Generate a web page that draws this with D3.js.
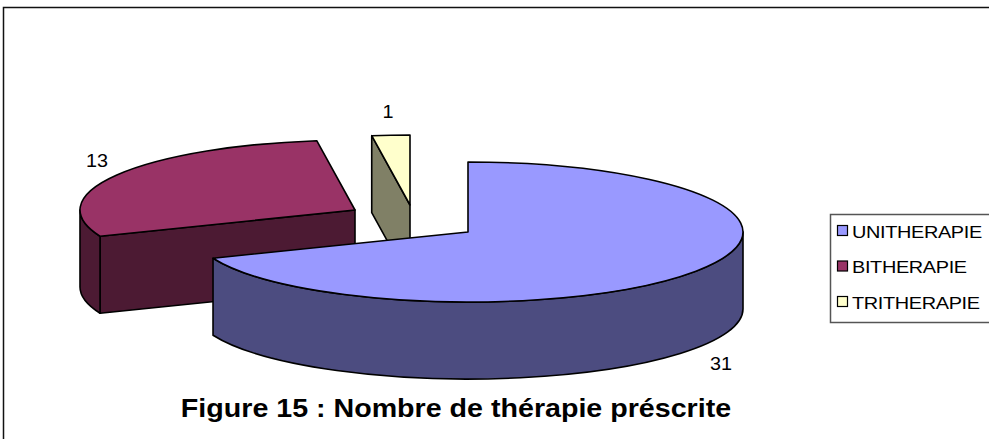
<!DOCTYPE html>
<html><head><meta charset="utf-8">
<script src="https://cdn.jsdelivr.net/npm/d3@7"></script>
<style>html,body{margin:0;padding:0;background:#fff;overflow:hidden}</style>
</head><body>
<svg id="c" width="989" height="439"></svg>
<script>
// ---- data ----
const categories = ["UNITHERAPIE", "BITHERAPIE", "TRITHERAPIE"];
const values = [31, 13, 1];
const title = "Figure 15 : Nombre de thérapie préscrite";

// ---- styling / layout ----
const topColors  = ["#9999FF", "#993366", "#FFFFCC"];
const sideColors = ["#4C4C80", "#4C1A33", "#808066"];
const explode = [[0, 0], [-113, -22], [-58, -27]];   // per-slice offsets
const cx = 468, cy = 232, rx = 275, ry = 70, depth = 77;
const labelPos = [[721, 370], [97, 167], [388, 118]];

const svg = d3.select("#c");
svg.append("rect").attr("x", 3.5).attr("y", 7.5).attr("width", 1100).attr("height", 600)
  .attr("fill", "none").attr("stroke", "#111").attr("stroke-width", 1.5);

const pie = d3.pie().sort(null).value(d => d).startAngle(0).endAngle(2 * Math.PI);
const arcs = pie(values);

function P(a, ox, oy) { return [cx + ox + rx * Math.sin(a), cy + oy - ry * Math.cos(a)]; }

const g = svg.append("g").attr("stroke", "#000").attr("stroke-width", 1.6).attr("stroke-linejoin", "round");

const order = arcs.map((d, i) => i).sort((i, j) => {
  const mi = (arcs[i].startAngle + arcs[i].endAngle) / 2, mj = (arcs[j].startAngle + arcs[j].endAngle) / 2;
  return (-Math.cos(mi)) - (-Math.cos(mj));
});

order.forEach(i => {
  const d = arcs[i];
  const a0 = d.startAngle, a1 = d.endAngle;
  const [ox, oy] = explode[i];
  const ax = cx + ox, ay = cy + oy;
  if (Math.sin(a0) < -1e-6) {
    const p = P(a0, ox, oy);
    g.append("path").attr("fill", sideColors[i])
      .attr("d", `M${ax},${ay}L${p[0]},${p[1]}L${p[0]},${p[1] + depth}L${ax},${ay + depth}Z`);
  }
  if (Math.sin(a1) > 1e-6) {
    const p = P(a1, ox, oy);
    g.append("path").attr("fill", sideColors[i])
      .attr("d", `M${ax},${ay}L${p[0]},${p[1]}L${p[0]},${p[1] + depth}L${ax},${ay + depth}Z`);
  }
  const b0 = Math.max(a0, Math.PI / 2), b1 = Math.min(a1, 3 * Math.PI / 2);
  if (b1 > b0) {
    const p0 = P(b0, ox, oy), p1 = P(b1, ox, oy);
    const lg = (b1 - b0) > Math.PI ? 1 : 0;
    g.append("path").attr("fill", sideColors[i])
      .attr("d", `M${p0[0]},${p0[1]}A${rx},${ry} 0 ${lg} 1 ${p1[0]},${p1[1]}L${p1[0]},${p1[1] + depth}A${rx},${ry} 0 ${lg} 0 ${p0[0]},${p0[1] + depth}Z`);
  }
  const q0 = P(a0, ox, oy), q1 = P(a1, ox, oy);
  const lg = (a1 - a0) > Math.PI ? 1 : 0;
  g.append("path").attr("fill", topColors[i])
    .attr("d", `M${ax},${ay}L${q0[0]},${q0[1]}A${rx},${ry} 0 ${lg} 1 ${q1[0]},${q1[1]}Z`);
});

// data labels
arcs.forEach((d, i) => {
  svg.append("text").attr("transform", `translate(${labelPos[i][0]},${labelPos[i][1]}) scale(1.1,1)`)
    .attr("text-anchor", "middle").attr("font-family", "Liberation Sans, Arial, sans-serif")
    .attr("font-size", 18).attr("fill", "#000").text(d.data);
});

// legend
const lx = 830, ly = 214;
svg.append("rect").attr("x", lx + 0.5).attr("y", ly + 0.5).attr("width", 300).attr("height", 108)
  .attr("fill", "#fff").attr("stroke", "#555").attr("stroke-width", 1.5);
const ys = d3.scalePoint().domain(categories).range([ly + 17, ly + 88]);
categories.forEach((c, i) => {
  const y = ys(c);
  svg.append("rect").attr("x", 837.5).attr("y", y - 5.5).attr("width", 10).attr("height", 10)
    .attr("fill", topColors[i]).attr("stroke", "#000").attr("stroke-width", 1.2);
  svg.append("text").attr("transform", `translate(852,${y + 6.5}) scale(1.17,1)`)
    .attr("font-family", "Liberation Sans, Arial, sans-serif").attr("font-size", 17)
    .attr("letter-spacing", -0.3)
    .attr("fill", "#000").text(c);
});

// title
svg.append("text").attr("transform", `translate(456,417) scale(1.08,1)`)
  .attr("text-anchor", "middle").attr("font-family", "Liberation Sans, Arial, sans-serif")
  .attr("font-weight", "bold").attr("font-size", 26.5).attr("fill", "#000").text(title);
</script>
</body></html>
